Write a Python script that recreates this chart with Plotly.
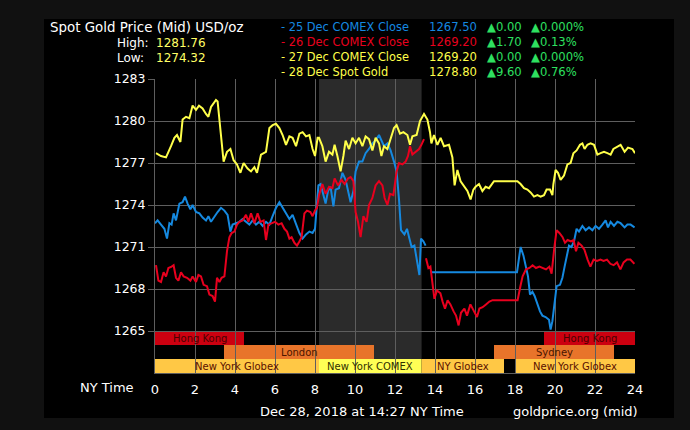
import plotly.graph_objects as go

# ---------------- data ----------------
hours_25 = [0.0, 0.13, 0.3, 0.47, 0.6, 0.72, 0.83, 0.93, 1.05, 1.22, 1.38, 1.5, 1.63, 1.77, 1.88, 2.05, 2.22, 2.38,
            2.55, 2.67, 2.8, 2.97, 3.13, 3.3, 3.47, 3.63, 3.77, 3.88, 4.05, 4.22, 4.38, 4.55, 4.72, 4.88, 5.05, 5.22,
            5.38, 5.55, 5.72, 5.88, 6.05, 6.22, 6.38, 6.55, 6.72, 6.88, 7.05, 7.22, 7.38, 7.55, 7.72, 7.88, 8.0, 8.1,
            8.17, 8.28, 8.42, 8.53, 8.65, 8.78, 8.92, 9.03, 9.2, 9.37, 9.53, 9.65, 9.78, 9.92, 10.03, 10.2, 10.37,
            10.53, 10.7, 10.87, 11.03, 11.2, 11.32, 11.45, 11.62, 11.78, 11.95, 12.08, 12.2, 12.3, 12.47, 12.6, 12.72,
            12.83, 12.97, 13.1, 13.22, 13.3, 13.42, 13.53, None, 13.8, 18.1, 18.2, 18.28, 18.42, 18.53, 18.65, 18.75,
            18.87, 18.98, 19.12, 19.25, 19.37, 19.53, 19.7, 19.78, 19.87, 19.98, 20.08, 20.25, 20.37, 20.48, 20.62,
            20.7, 20.82, 20.95, 21.08, 21.2, 21.37, 21.53, 21.7, 21.87, 22.03, 22.2, 22.37, 22.53, 22.65, 22.78,
            22.95, 23.12, 23.28, 23.48, 23.62, 23.78, 23.98]
vals_25 = [1272.7, 1272.9, 1272.6, 1272.3, 1271.6, 1272.7, 1272.6, 1273.4, 1272.9, 1274.1, 1274.2, 1274.6, 1274.1,
           1273.7, 1274.0, 1273.5, 1273.4, 1273.1, 1272.9, 1273.2, 1272.8, 1273.2, 1273.5, 1273.8, 1273.6, 1273.3,
           1272.1, 1272.6, 1272.7, 1272.8, 1273.0, 1272.8, 1272.6, 1272.9, 1272.6, 1272.8, 1272.5, 1272.8, 1272.6,
           1273.2, 1273.8, 1274.2, 1273.8, 1273.4, 1273.0, 1273.3, 1272.6, 1272.0, 1271.6, 1271.9, 1272.1, 1272.0,
           1272.3, 1274.2, 1275.4, 1275.5, 1274.7, 1274.1, 1275.0, 1275.3, 1273.9, 1275.1, 1275.2, 1276.3, 1275.8,
           1275.0, 1274.2, 1275.0, 1276.4, 1277.1, 1277.1, 1277.7, 1278.0, 1278.4, 1278.6, 1279.0, 1278.6, 1278.2,
           1278.4, 1277.9, 1277.1, 1276.4, 1274.4, 1272.2, 1271.9, 1272.3, 1271.6, 1271.0, 1271.1, 1270.1, 1269.0,
           1271.6, 1271.4, 1271.1, None, 1269.2, 1269.2, 1270.2, 1271.0, 1270.4, 1269.6, 1268.9, 1267.6, 1267.8,
           1267.5, 1266.9, 1266.4, 1266.1, 1266.0, 1265.8, 1265.1, 1265.7, 1267.1, 1268.2, 1268.3, 1268.8, 1269.6,
           1270.5, 1271.1, 1271.0, 1271.4, 1272.3, 1272.1, 1272.5, 1272.2, 1272.4, 1272.2, 1272.5, 1272.3, 1272.6,
           1272.9, 1272.4, 1272.8, 1272.5, 1272.8, 1272.7, 1272.4, 1272.6, 1272.6, 1272.4]

hours_26 = [0.05, 0.17, 0.3, 0.43, 0.55, 0.67, 0.83, 0.93, 1.05, 1.17, 1.3, 1.43, 1.6, 1.77, 1.88, 2.05, 2.17, 2.3,
            2.43, 2.6, 2.72, 2.88, 3.0, 3.1, 3.22, 3.33, 3.47, 3.6, 3.72, 3.83, 3.97, 4.1, 4.22, 4.38, 4.55, 4.67,
            4.8, 4.97, 5.13, 5.27, 5.43, 5.55, 5.67, 5.83, 6.0, 6.17, 6.33, 6.47, 6.6, 6.72, 6.83, 6.97, 7.1, 7.22,
            7.33, 7.47, 7.6, 7.77, 7.88, 8.0, 8.1, 8.2, 8.37, 8.53, 8.7, 8.87, 8.98, 9.15, 9.32, 9.48, 9.65, 9.78,
            9.92, 10.03, 10.15, 10.28, 10.42, 10.58, 10.7, 10.87, 11.03, 11.2, 11.37, 11.48, 11.62, 11.75, 11.92,
            12.08, 12.2, 12.37, 12.53, 12.65, 12.75, 12.87, 13.03, 13.2, 13.32, 13.45, None, 13.55, 13.67, 13.77,
            13.88, 13.97, 14.1, 14.27, 14.38, 14.5, 14.63, 14.77, 14.93, 15.05, 15.18, 15.3, 15.47, 15.6, 15.77,
            15.93, 16.1, 16.22, 16.38, 16.55, 16.72, 16.88, 18.13, 18.27, 18.38, 18.55, 18.72, 18.88, 19.05, 19.22,
            19.38, 19.55, 19.72, 19.83, 19.97, 20.08, 20.22, 20.38, 20.5, 20.63, 20.8, 20.93, 21.05, 21.17, 21.33,
            21.47, 21.63, 21.77, 21.93, 22.1, 22.27, 22.43, 22.6, 22.77, 22.93, 23.1, 23.27, 23.43, 23.6, 23.77,
            23.97]
vals_26 = [1269.7, 1268.6, 1268.5, 1269.2, 1268.9, 1269.5, 1269.6, 1269.7, 1268.8, 1268.6, 1269.2, 1268.9, 1268.8,
           1268.6, 1268.9, 1268.5, 1269.0, 1268.9, 1268.3, 1268.2, 1267.6, 1267.5, 1267.1, 1268.8, 1268.5, 1268.8,
           1268.9, 1270.7, 1271.7, 1272.0, 1272.1, 1272.6, 1272.8, 1272.9, 1273.3, 1272.8, 1273.4, 1272.7, 1273.4,
           1272.8, 1272.9, 1271.5, 1272.6, 1272.7, 1272.8, 1272.6, 1272.7, 1272.3, 1272.1, 1271.6, 1271.7, 1271.3,
           1271.1, 1271.4, 1271.7, 1273.4, 1273.6, 1273.5, 1273.2, 1273.6, 1273.8, 1274.7, 1275.5, 1274.8, 1275.3,
           1275.2, 1275.9, 1275.4, 1275.8, 1275.5, 1275.9, 1276.0, 1275.7, 1273.5, 1272.8, 1271.7, 1273.2, 1272.8,
           1274.0, 1274.5, 1275.4, 1275.7, 1275.4, 1274.5, 1274.0, 1274.8, 1274.7, 1276.4, 1277.0, 1276.9, 1277.1,
           1277.5, 1278.2, 1277.6, 1277.8, 1278.0, 1278.3, 1278.7, None, 1270.2, 1269.5, 1269.6, 1268.4, 1267.3,
           1267.9, 1267.7, 1267.1, 1266.6, 1267.2, 1266.9, 1266.4, 1266.1, 1265.4, 1266.3, 1266.6, 1266.1, 1266.9,
           1266.5, 1266.0, 1266.6, 1266.7, 1266.9, 1267.1, 1267.2, 1267.2, 1268.2, 1268.9, 1269.4, 1269.5, 1269.7,
           1269.5, 1269.6, 1269.5, 1269.4, 1269.6, 1269.1, 1271.0, 1272.2, 1272.0, 1271.7, 1271.3, 1271.5, 1271.4,
           1271.5, 1270.7, 1271.3, 1271.1, 1270.8, 1270.1, 1269.6, 1270.1, 1270.0, 1270.1, 1270.0, 1270.1, 1269.8,
           1269.7, 1269.9, 1269.4, 1269.9, 1270.1, 1270.1, 1269.8]

hours_28 = [0.05, 0.3, 0.55, 0.63, 0.8, 0.97, 1.1, 1.27, 1.38, 1.55, 1.72, 1.88, 2.05, 2.2, 2.38, 2.55, 2.67, 2.8,
            3.05, 3.13, 3.3, 3.43, 3.6, 3.77, 3.93, 4.1, 4.27, 4.43, 4.63, 4.8, 4.97, 5.1, 5.3, 5.55, 5.72, 5.88,
            6.05, 6.22, 6.38, 6.55, 6.72, 6.88, 7.05, 7.22, 7.38, 7.55, 7.72, 7.88, 8.0, 8.13, 8.2, 8.37, 8.53,
            8.7, 8.87, 8.98, 9.12, 9.28, 9.42, 9.53, 9.7, 9.87, 10.03, 10.2, 10.37, 10.53, 10.7, 10.87, 11.03,
            11.2, 11.32, 11.45, 11.62, 11.78, 11.95, 12.08, 12.25, 12.42, 12.62, 12.75, 12.87, 13.08, 13.25, 13.45,
            13.62, 13.75, 13.82, 13.95, 14.12, 14.28, 14.45, 14.7, 14.87, 14.98, 15.12, 15.28, 15.45, 15.62, 15.78,
            15.92, 16.03, 16.2, 16.37, 16.53, 16.7, 16.87, 16.95, 18.12, 18.28, 18.45, 18.62, 18.78, 18.95, 19.12,
            19.28, 19.45, 19.58, 19.75, 19.87, 19.92, 20.03, 20.15, 20.28, 20.45, 20.62, 20.78, 20.92, 21.08, 21.25,
            21.37, 21.48, 21.62, 21.78, 21.95, 22.12, 22.28, 22.45, 22.62, 22.78, 22.92, 23.12, 23.28, 23.48, 23.65,
            23.87, 24.0]
vals_28 = [1277.7, 1277.5, 1277.4, 1277.7, 1278.2, 1278.8, 1279.0, 1278.5, 1280.1, 1280.3, 1280.2, 1281.1, 1280.8,
           1281.1, 1280.9, 1280.5, 1280.3, 1281.0, 1281.5, 1281.4, 1279.2, 1277.1, 1277.8, 1278.0, 1277.2, 1276.9,
           1276.3, 1277.0, 1276.6, 1276.4, 1276.7, 1276.3, 1277.6, 1277.8, 1279.5, 1279.7, 1279.8, 1279.5, 1279.0,
           1278.3, 1278.9, 1278.8, 1278.2, 1279.1, 1279.2, 1278.9, 1279.0, 1278.0, 1277.5, 1278.8, 1278.8, 1278.2,
           1277.1, 1277.8, 1277.6, 1278.3, 1277.5, 1276.4, 1277.5, 1278.6, 1278.0, 1278.8, 1278.4, 1278.8, 1278.2,
           1278.9, 1278.7, 1277.9, 1278.8, 1278.4, 1277.5, 1278.2, 1278.0, 1278.8, 1279.5, 1279.7, 1279.1, 1279.2,
           1279.0, 1278.3, 1278.9, 1279.0, 1280.0, 1280.5, 1280.1, 1279.2, 1278.4, 1279.0, 1278.3, 1278.8, 1278.2,
           1278.3, 1277.4, 1275.4, 1276.5, 1275.7, 1275.3, 1275.0, 1274.4, 1275.1, 1275.3, 1275.5, 1275.0, 1275.3,
           1275.2, 1275.5, 1275.7, 1275.7, 1275.5, 1275.2, 1275.1, 1274.9, 1274.6, 1274.7, 1274.6, 1274.7, 1275.1,
           1275.1, 1274.7, 1275.5, 1276.5, 1276.3, 1275.8, 1276.1, 1276.9, 1277.0, 1277.7, 1277.9, 1278.3, 1278.4,
           1278.0, 1278.3, 1278.4, 1278.3, 1277.6, 1277.7, 1277.8, 1277.7, 1277.6, 1278.0, 1278.2, 1278.3, 1277.8,
           1278.1, 1278.0, 1277.7]

legend_labels = ["25 Dec COMEX Close", "26 Dec COMEX Close", "27 Dec COMEX Close", "28 Dec Spot Gold"]
legend_prices = ["1267.50", "1269.20", "1269.20", "1278.80"]
legend_change = ["0.00", "1.70", "0.00", "9.60"]
legend_pct = ["0.000%", "0.13%", "0.000%", "0.76%"]
high_value = "1281.76"
low_value = "1274.32"

session_names = ["Hong Kong", "London", "New York Globex", "New York COMEX", "NY Globex",
                 "Sydney", "Hong Kong", "New York Globex"]
session_start = [0.0, 3.45, 0.0, 8.2, 13.33, 16.95, 19.45, 18.0]
session_end = [4.45, 10.95, 8.2, 13.33, 17.45, 22.95, 24.0, 24.0]
session_row = [0, 1, 2, 2, 2, 1, 0, 2]
session_kind = ["hk", "ldn", "glx", "cmx", "glx", "ldn", "hk", "glx"]

x_ticks = list(range(0, 25, 2))
y_ticks = [1265, 1268, 1271, 1274, 1277, 1280, 1283]

# ---------------- styles ----------------
FONT = "DejaVu Sans"
BLUE = "#1589E0"
RED = "#E8001E"
YELLOW = "#FFFF4A"
GREEN = "#2EE060"
GRID = "#5e5e5e"
legend_colors = [BLUE, RED, YELLOW, YELLOW]
kind_fill = {"hk": "#CC0010", "ldn": "#E8742A", "glx": "#FFC845", "cmx": "#FFFF55"}
kind_text = {"hk": "#4a0000", "ldn": "#4a1500", "glx": "#5a1000", "cmx": "#303000"}

W, H = 690, 430
L, R, T, B = 155, 55, 79, 57
PW, PH = W - L - R, H - T - B


def px(x):
    return (x - L) / PW


def py(y):
    return (H - B - y) / PH


fig = go.Figure()
fig.add_trace(go.Scatter(x=hours_25, y=vals_25, mode="lines", line=dict(color=BLUE, width=2), connectgaps=False))
fig.add_trace(go.Scatter(x=hours_26, y=vals_26, mode="lines", line=dict(color=RED, width=2), connectgaps=False))
fig.add_trace(go.Scatter(x=hours_28, y=vals_28, mode="lines", line=dict(color=YELLOW, width=2), connectgaps=False))

shapes = []
# outer black panel
shapes.append(dict(type="rect", xref="paper", yref="paper", x0=px(44), x1=px(674), y0=py(418), y1=py(19),
                   fillcolor="#000000", line=dict(width=0), layer="below"))
# COMEX shading
ci = session_kind.index("cmx")
shapes.append(dict(type="rect", xref="x", yref="y", x0=session_start[ci], x1=session_end[ci],
                   y0=y_ticks[0] - 2, y1=y_ticks[-1], fillcolor="#2b2b2b", line=dict(width=0), layer="below"))
annotations = []
for name, s, e, r, k in zip(session_names, session_start, session_end, session_row, session_kind):
    top = y_ticks[0] - r
    shapes.append(dict(type="rect", xref="x", yref="y", x0=s, x1=e, y0=top - 1, y1=top,
                       fillcolor=kind_fill[k], line=dict(width=0), layer="below"))
    annotations.append(dict(x=(s + e) / 2, y=top - 0.5, xref="x", yref="y", text=name, showarrow=False,
                            font=dict(family=FONT, size=10, color=kind_text[k]), xanchor="center", yanchor="middle"))


def txt(x, y, text, color="#ffffff", size=12, anchor="left"):
    annotations.append(dict(x=px(x), y=py(y), xref="paper", yref="paper", text=text, showarrow=False,
                            xanchor=anchor, yanchor="middle", font=dict(family=FONT, size=size, color=color)))


txt(48, 28, "Spot Gold Price (Mid) USD/oz", size=13.4)
txt(115, 43, "High:", size=12)
txt(154, 43, high_value, color="#FFFF66", size=12)
txt(115, 58, "Low:", size=12)
txt(154, 58, low_value, color="#FFFF66", size=12)
for i, (lab, pr, ch, pc) in enumerate(zip(legend_labels, legend_prices, legend_change, legend_pct)):
    yy = 27 + 15 * i
    txt(279, yy, "- " + lab, color=legend_colors[i], size=11.4)
    txt(427, yy, pr, color=legend_colors[i], size=11.6)
    txt(485, yy, "▲" + ch, color=GREEN, size=11.6)
    txt(529, yy, "▲" + pc, color=GREEN, size=11.6)
txt(136, 387, "NY Time", size=13, anchor="right")
txt(258, 411, "Dec 28, 2018 at 14:27 NY Time", size=13)
txt(511, 411, "goldprice.org (mid)", size=13)

fig.update_layout(
    width=W, height=H, margin=dict(l=L, r=R, t=T, b=B, pad=0),
    paper_bgcolor="#111111", plot_bgcolor="#000000",
    showlegend=False, shapes=shapes, annotations=annotations,
    font=dict(family=FONT, color="#ffffff", size=12),
    xaxis=dict(range=[0, 24], tickvals=x_ticks, ticktext=[str(v) for v in x_ticks], showgrid=True,
               gridcolor=GRID, gridwidth=1, zeroline=False, showline=True, linecolor=GRID, linewidth=1,
               ticks="outside", ticklen=4, tickcolor="rgba(0,0,0,0)", tickfont=dict(size=13, color="#ffffff"),
               fixedrange=True),
    yaxis=dict(range=[y_ticks[0] - 3, y_ticks[-1]], tickvals=y_ticks, showgrid=True, gridcolor=GRID, gridwidth=1,
               zeroline=False, showline=True, linecolor=GRID, linewidth=1, ticks="outside", ticklen=6,
               tickcolor=GRID, tickfont=dict(size=12.5, color="#ffffff"), fixedrange=True),
)
fig.write_html(
    "out.html",
    config={"displayModeBar": False},
    post_script="document.body.style.margin='0';document.body.style.padding='0';"
                "document.body.style.background='#111111';document.body.style.overflow='hidden';",
)
